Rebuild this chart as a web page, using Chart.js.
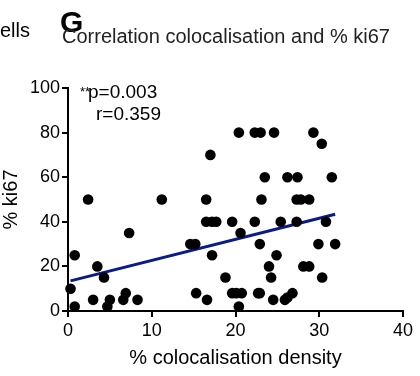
<!DOCTYPE html>
<html>
<head>
<meta charset="utf-8">
<script src="https://cdn.jsdelivr.net/npm/chart.js@4.4.1/dist/chart.umd.min.js"></script>
<style>
  html, body { margin: 0; padding: 0; background: #fff; }
  #wrap { position: relative; width: 420px; height: 376px; }
</style>
</head>
<body>
<div id="wrap"><canvas id="chart" width="420" height="376"></canvas></div>
<script>
// colocalisation density (%) for each sample
const colocX = [
  0.3, 0.8, 0.8, 2.4, 3.0, 3.5, 4.3, 4.7, 5.0, 6.6, 6.9, 7.3, 8.3, 11.2,
  14.6, 15.2, 15.3, 16.5, 16.6, 17.0, 16.5, 17.2, 17.7, 17.2, 18.8, 19.6,
  19.6, 20.1, 20.75, 20.4, 20.6, 20.4, 22.3, 23.0, 24.6, 29.3, 30.3, 23.5,
  26.2, 27.4, 31.5, 23.1, 27.3, 27.8, 28.8, 22.3, 25.4, 27.3, 30.8, 22.9,
  29.9, 31.9, 24.9, 24.0, 28.1, 28.8, 24.25, 30.35, 22.7, 22.9, 26.8, 24.5,
  25.9, 26.2
];
// % ki67 for each sample
const ki67Y = [
  10, 25, 2, 50, 5, 20, 15, 2, 5, 5, 8, 35, 5, 50,
  30, 30, 8, 50, 5, 70, 40, 40, 40, 25, 15, 40,
  8, 8, 8, 80, 35, 2, 80, 80, 80, 80, 75, 60,
  60, 60, 60, 50, 50, 50, 50, 40, 40, 40, 40, 30,
  30, 30, 25, 20, 20, 20, 15, 15, 8, 8, 8, 5,
  5, 6
];
// linear fit as drawn (ends at the data range)
const fitX = [0.3, 31.9];
const fitY = [13.5, 43.4];

const xTicks = [0, 10, 20, 30, 40];
const yTicks = [0, 20, 40, 60, 80, 100];

const FONT = '"Liberation Sans", Arial, Helvetica, sans-serif';

// free text drawn on top: panel letter, titles, stats
const labelsPlugin = {
  id: 'panelText',
  afterDraw(chart) {
    const ctx = chart.ctx;
    const a = chart.chartArea;
    ctx.save();
    ctx.fillStyle = '#000';
    ctx.textBaseline = 'alphabetic';
    ctx.textAlign = 'left';
    ctx.font = '20px ' + FONT;
    ctx.fillText('ells', 0, 37);
    ctx.font = 'bold 30px ' + FONT;
    ctx.fillText('G', 60, 32);
    ctx.fillStyle = '#222';
    ctx.font = '20px ' + FONT;
    ctx.fillText('Correlation colocalisation and % ki67', 62, 43);
    ctx.fillStyle = '#000';
    ctx.font = '13px ' + FONT;
    ctx.fillText('**', a.left + 12, a.top + 8);
    ctx.font = '19px ' + FONT;
    ctx.fillText('p=0.003', a.left + 20, a.top + 10);
    ctx.fillText('r=0.359', a.left + 28, a.top + 32);
    ctx.restore();
  }
};

const points = colocX.map((x, i) => ({ x: x, y: ki67Y[i] }));
const fitLine = fitX.map((x, i) => ({ x: x, y: fitY[i] }));

new Chart(document.getElementById('chart'), {
  type: 'scatter',
  data: {
    datasets: [
      {
        label: 'samples',
        data: points,
        backgroundColor: '#000',
        borderWidth: 0,
        pointRadius: 5.3,
        clip: false,
        order: 0
      },
      {
        type: 'line',
        label: 'fit',
        data: fitLine,
        borderColor: '#0a1a86',
        borderWidth: 3,
        pointRadius: 0,
        fill: false,
        order: 1
      }
    ]
  },
  options: {
    responsive: false,
    animation: false,
    events: [],
    layout: { padding: { top: 88, right: 17, left: 0, bottom: 0 } },
    plugins: {
      legend: { display: false },
      tooltip: { enabled: false }
    },
    scales: {
      x: {
        type: 'linear',
        min: 0,
        max: 40,
        afterFit: (s) => { s.height = 65; },
        afterBuildTicks: (s) => { s.ticks = xTicks.map(v => ({ value: v })); },
        grid: { drawOnChartArea: false, drawTicks: true, tickLength: 6, color: '#000', lineWidth: 2 },
        border: { display: true, color: '#000', width: 2 },
        ticks: { color: '#000', font: { family: FONT, size: 18 }, padding: 3, maxRotation: 0 },
        title: { display: true, text: '% colocalisation density', color: '#000', font: { family: FONT, size: 20 }, padding: { top: 0, bottom: 6 } }
      },
      y: {
        type: 'linear',
        min: 0,
        max: 100,
        afterFit: (s) => { s.width = 68; },
        afterBuildTicks: (s) => { s.ticks = yTicks.map(v => ({ value: v })); },
        grid: { drawOnChartArea: false, drawTicks: true, tickLength: 6, color: '#000', lineWidth: 2 },
        border: { display: true, color: '#000', width: 2 },
        ticks: { color: '#000', font: { family: FONT, size: 18 }, padding: 2 },
        title: { display: true, text: '% ki67', color: '#000', font: { family: FONT, size: 20, lineHeight: 1 }, padding: { top: 1, bottom: 0 } }
      }
    }
  },
  plugins: [labelsPlugin]
});
</script>
</body>
</html>
